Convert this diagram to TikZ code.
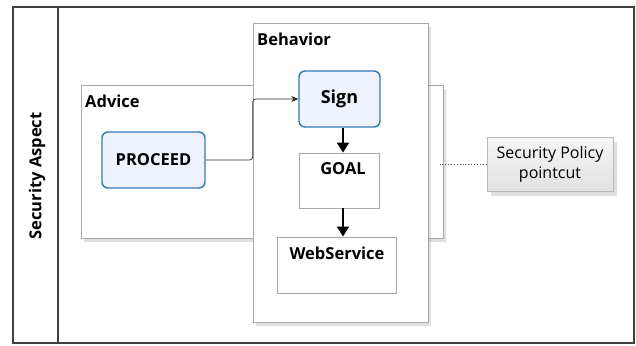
\documentclass[tikz,border=0pt]{standalone}
\usepackage{fontspec}
\setmainfont{Open Sans}
\usetikzlibrary{shadows,arrows.meta}
\definecolor{frameline}{HTML}{404040}
\definecolor{boxline}{HTML}{A8A8A8}
\definecolor{blueline}{HTML}{2E7BB0}
\definecolor{bluefill}{HTML}{EEF2FB}
\definecolor{pcline}{HTML}{B8B8B8}
\definecolor{pctop}{HTML}{F6F6F6}
\definecolor{pcbot}{HTML}{E2E2E2}
\tikzset{
  gbox/.style={draw=boxline, line width=0.9pt, fill=white, inner sep=0pt, rectangle},
  shbox/.style={gbox, drop shadow={shadow xshift=3pt, shadow yshift=-4pt, opacity=0.25}},
  bbox/.style={draw=blueline, line width=1.4pt, fill=bluefill, rounded corners=6pt, inner sep=0pt,
     font=\fontsize{16.5}{18}\selectfont\bfseries},
  lbl/.style={font=\fontsize{16.5}{18}\selectfont\bfseries, inner sep=0pt},
  thick arrow/.style={line width=2pt, -{Triangle[length=10pt,width=12pt]}},
  conn/.style={draw=black!85, line width=0.7pt, rounded corners=3pt, -{Stealth[length=7pt,width=6pt]}},
}
\begin{document}
\begin{tikzpicture}[x=1pt,y=-1pt]
\useasboundingbox (0,0) rectangle (636,345);
% outer frame
\draw[frameline, line width=1.2pt] (13,7) rectangle (634,343);
\draw[frameline, line width=1.2pt] (58,7) -- (58,343);
\node[lbl, rotate=90] (aspect) at (37,176) {Security Aspect};
% advice
\node[shbox, minimum width=362pt, minimum height=153pt] (advice) at (262,161.5) {};
\node[lbl, anchor=west] (advicelbl) at (85,101) {Advice};
% behavior
\node[shbox, minimum width=175pt, minimum height=299pt] (behavior) at (340.5,172.5) {};
\node[lbl, anchor=west] (behaviorlbl) at (257,39) {Behavior};
% inner nodes
\node[bbox, minimum width=81pt, minimum height=56pt, font=\fontsize{18}{20}\selectfont\bfseries] (sign) at (339.5,99) {Sign};
\node[gbox, minimum width=80pt, minimum height=55pt] (goal) at (339,180.5) {};
\node[lbl] (goallbl) at (343,169) {GOAL};
\node[gbox, minimum width=119pt, minimum height=56pt] (web) at (336.5,265) {};
\node[lbl] (weblbl) at (337,253) {WebService};
\node[bbox, minimum width=103pt, minimum height=56pt] (proceed) at (153.5,160) {PROCEED};
% pointcut
\node[draw=pcline, line width=0.8pt, top color=pctop, bottom color=pcbot, inner sep=0pt,
      minimum width=126pt, minimum height=54pt, align=center,
      font=\fontsize{16}{20}\selectfont,
      drop shadow={shadow xshift=4pt, shadow yshift=-5pt, opacity=0.25}] (pointcut) at (550,164)
      {Security Policy\\pointcut};
\coordinate (dotend) at (440,164);
% connectors
\draw[conn] (proceed.east) -- ([xshift=47pt]proceed.east) |- (sign.west);
\draw[thick arrow] ([xshift=3.5pt]sign.south) -- ([xshift=3.5pt]sign.south |- goal.north);
\draw[thick arrow] ([xshift=4pt]goal.south) -- ([xshift=4pt]goal.south |- web.north);
\draw[black!70, line width=0.9pt, dotted] (pointcut.west) -- (dotend);
\end{tikzpicture}
\end{document}
